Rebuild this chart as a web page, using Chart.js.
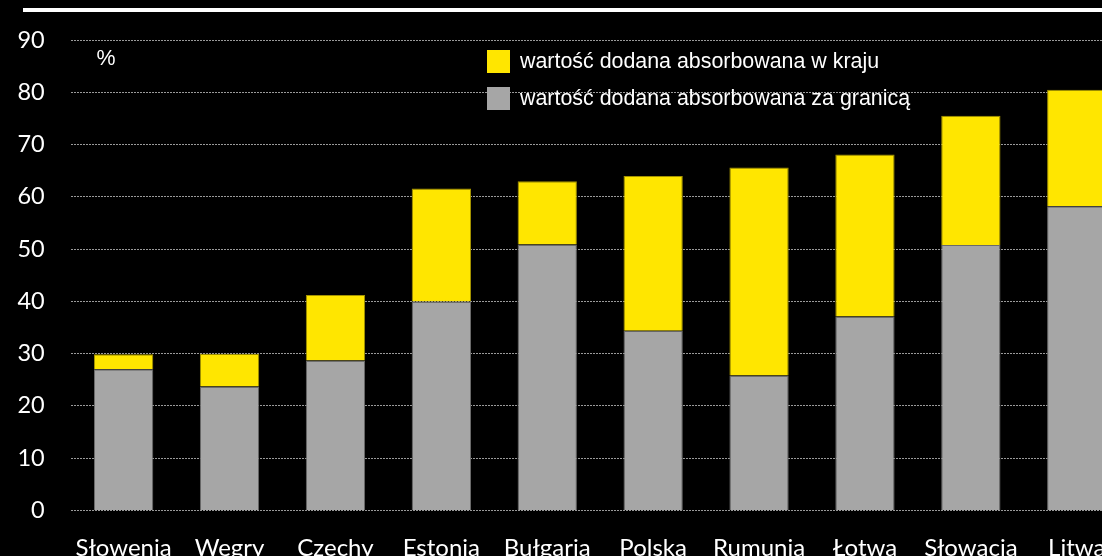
<!DOCTYPE html>
<html>
<head>
<meta charset="utf-8">
<script src="https://cdn.jsdelivr.net/npm/chart.js@4.4.0/dist/chart.umd.min.js"></script>
<style>
  html, body { margin: 0; padding: 0; background: #000; overflow: hidden; width: 1102px; height: 556px; }
  canvas { display: block; }
</style>
</head>
<body>
<canvas id="c" width="1140" height="580" style="width:1140px;height:580px"></canvas>
<script>
const categories = ['Słowenia', 'Węgry', 'Czechy', 'Estonia', 'Bułgaria', 'Polska', 'Rumunia', 'Łotwa', 'Słowacja', 'Litwa'];
const abroadValues = [27.0, 23.7, 28.7, 40.0, 50.9, 34.4, 25.8, 37.1, 50.8, 58.2];
const domesticValues = [2.9, 6.3, 12.5, 21.6, 12.1, 29.6, 39.8, 31.0, 24.7, 22.3];
const yTicks = [0, 10, 20, 30, 40, 50, 60, 70, 80, 90];
const seriesNames = ['wartość dodana absorbowana w kraju', 'wartość dodana absorbowana za granicą'];
const unitLabel = '%';

const decor = {
  id: 'decor',
  beforeDraw(chart) {
    const ctx = chart.ctx;
    ctx.save();
    ctx.fillStyle = '#000';
    ctx.fillRect(0, 0, chart.width, chart.height);
    ctx.fillStyle = '#fff';
    ctx.fillRect(23, 8, chart.width - 23, 4);
    ctx.restore();
  },
  afterDatasetsDraw(chart) {
    const ctx = chart.ctx;
    ctx.save();
    ctx.font = '21.4px "Liberation Sans", Arial, sans-serif';
    ctx.fillStyle = '#fff';
    ctx.textBaseline = 'middle';
    ctx.textAlign = 'center';
    ctx.fillText(unitLabel, 106, 59);
    const items = [
      { ds: chart.data.datasets[1], y: 50 },
      { ds: chart.data.datasets[0], y: 87 }
    ];
    ctx.textAlign = 'left';
    items.forEach(it => {
      ctx.fillStyle = it.ds.backgroundColor;
      ctx.fillRect(487, it.y, 23, 23);
      ctx.fillStyle = '#fff';
      ctx.fillText(it.ds.label, 520, it.y + 12);
    });
    ctx.restore();
  }
};

new Chart(document.getElementById('c'), {
  type: 'bar',
  data: {
    labels: categories,
    datasets: [
      {
        label: seriesNames[1],
        data: abroadValues,
        backgroundColor: '#a6a6a6',
        borderColor: '#6a6a6a',
        borderWidth: 1,
        barPercentage: 0.56,
        categoryPercentage: 1.0
      },
      {
        label: seriesNames[0],
        data: domesticValues,
        backgroundColor: '#ffe600',
        borderColor: '#a39200',
        borderWidth: 1,
        barPercentage: 0.56,
        categoryPercentage: 1.0
      }
    ]
  },
  options: {
    responsive: false,
    animation: false,
    devicePixelRatio: 1,
    layout: { padding: { top: 36.4, right: 10.3, bottom: 9.6, left: 0 } },
    plugins: { legend: { display: false }, tooltip: { enabled: false } },
    scales: {
      x: {
        stacked: true,
        grid: { display: false, drawTicks: false },
        border: { display: false },
        ticks: { color: '#fff', font: { family: 'Lato', size: 24 }, padding: 23, maxRotation: 0, autoSkip: false },
        afterFit(scale) { scale.height = 60; }
      },
      y: {
        stacked: true,
        min: 0, max: 90,
        afterBuildTicks(scale) { scale.ticks = yTicks.map(v => ({ value: v })); },
        grid: { color: '#9a9a9a', lineWidth: 1, drawTicks: false },
        border: { display: false, dash: [2, 1] },
        ticks: { color: '#fff', font: { family: 'Lato', size: 23.5 }, padding: 26 },
        afterFit(scale) { scale.width = 70.7; }
      }
    }
  },
  plugins: [decor]
});
</script>
</body>
</html>
